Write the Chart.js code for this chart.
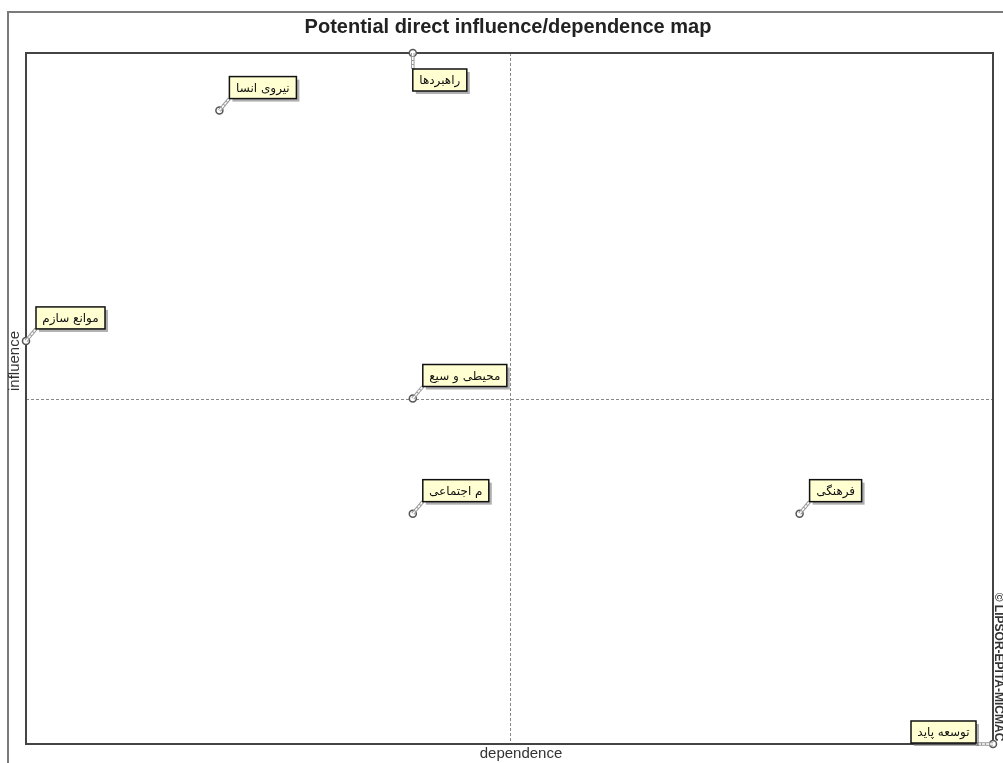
<!DOCTYPE html>
<html>
<head>
<meta charset="utf-8">
<script src="https://cdn.jsdelivr.net/npm/chart.js@4.4.1/dist/chart.umd.min.js"></script>
<style>
  html, body { margin: 0; padding: 0; background: #fff; }
  #wrap { width: 1003px; height: 763px; position: relative; }
</style>
</head>
<body>
<div id="wrap"><canvas id="map"></canvas></div>
<script>
// variables of the MICMAC map
const labels = ['نیروی انسا', 'راهبردها', 'موانع سازم', 'محیطی و سیع', 'م اجتماعی', 'فرهنگی', 'توسعه پاید'];
const dependence = [1, 2, 0, 2, 2, 4, 5];
const influence = [11, 12, 7, 6, 4, 4, 0];

const xMax = 5, yMax = 12;
const xMid = 2.5, yMid = 6;

const points = labels.map((l, i) => ({ x: dependence[i], y: influence[i] }));

const decor = {
  id: 'decor',
  beforeDatasetsDraw(chart) {
    const { ctx, chartArea: a, scales } = chart;
    ctx.save();
    // outer frame
    ctx.strokeStyle = '#7a7a7a';
    ctx.lineWidth = 2;
    ctx.beginPath();
    ctx.moveTo(8, 763);
    ctx.lineTo(8, 12);
    ctx.lineTo(1003, 12);
    ctx.stroke();

    // quadrant lines
    ctx.strokeStyle = '#888';
    ctx.lineWidth = 1;
    ctx.setLineDash([3, 2]);
    const mx = Math.round(scales.x.getPixelForValue(xMid)) + 0.5;
    const my = Math.round(scales.y.getPixelForValue(yMid)) + 0.5;
    ctx.beginPath();
    ctx.moveTo(mx, a.top); ctx.lineTo(mx, a.bottom);
    ctx.moveTo(a.left, my); ctx.lineTo(a.right, my);
    ctx.stroke();
    ctx.setLineDash([]);

    // plot border
    ctx.strokeStyle = '#444';
    ctx.lineWidth = 2;
    ctx.strokeRect(a.left, a.top, a.right - a.left, a.bottom - a.top);

    // title and axis names
    ctx.fillStyle = '#222';
    ctx.font = 'bold 20px "Liberation Sans", Arial, sans-serif';
    ctx.textAlign = 'center';
    ctx.textBaseline = 'middle';
    ctx.fillText('Potential direct influence/dependence map', 508, 27);

    ctx.fillStyle = '#333';
    ctx.font = '15px "Liberation Sans", Arial, sans-serif';
    ctx.fillText('dependence', 521, 754);
    ctx.save();
    ctx.translate(15, 361);
    ctx.rotate(-Math.PI / 2);
    ctx.fillText('influence', 0, 0);
    ctx.restore();

    ctx.save();
    ctx.translate(998, 667);
    ctx.rotate(Math.PI / 2);
    ctx.font = 'bold 12px "Liberation Sans", Arial, sans-serif';
    ctx.fillStyle = '#333';
    ctx.fillText('© LIPSOR-EPITA-MICMAC', 0, 0);
    ctx.restore();
    ctx.restore();
  },
  afterDatasetsDraw(chart) {
    const { ctx, chartArea: a } = chart;
    const meta = chart.getDatasetMeta(0);
    ctx.save();
    ctx.font = '12px "DejaVu Sans", sans-serif';
    meta.data.forEach((pt, i) => {
      const px = pt.x, py = pt.y;
      const w = Math.round(ctx.measureText(labels[i]).width) + 13;
      const h = 22;
      let bx = px + 10, by = py - 34, lx = bx, ly = by + h;
      if (by < a.top) { bx = px; by = py + 16; lx = px; ly = by; }
      else if (bx + w > a.right) { bx = px - 17 - w; by = py - 1 - h; lx = bx + w; ly = py; }

      // leader (double line look)
      ctx.beginPath();
      ctx.moveTo(px, py);
      ctx.lineTo(lx, ly);
      ctx.strokeStyle = '#9a9a9a';
      ctx.lineWidth = 3.5;
      ctx.stroke();
      ctx.strokeStyle = '#fff';
      ctx.lineWidth = 1.5;
      ctx.setLineDash([3, 1]);
      ctx.stroke();
      ctx.setLineDash([]);

      // shadow
      ctx.fillStyle = 'rgba(110,110,110,0.55)';
      ctx.fillRect(bx + 3, by + 3, w, h);
      // box
      ctx.fillStyle = '#ffffd2';
      ctx.fillRect(bx, by, w, h);
      ctx.strokeStyle = '#111';
      ctx.lineWidth = 1.5;
      ctx.strokeRect(bx, by, w, h);
      ctx.fillStyle = '#111';
      ctx.textAlign = 'center';
      ctx.textBaseline = 'middle';
      ctx.fillText(labels[i], bx + w / 2, by + h / 2 + 1);
    });
    ctx.restore();
  }
};

new Chart(document.getElementById('map'), {
  type: 'scatter',
  data: {
    datasets: [{
      data: points,
      pointRadius: 3.5,
      pointHoverRadius: 3.5,
      pointBorderWidth: 1.5,
      pointBorderColor: '#555',
      pointBackgroundColor: '#fff',
      clip: false
    }]
  },
  options: {
    responsive: true,
    maintainAspectRatio: false,
    animation: false,
    layout: { padding: { left: 26, top: 53, right: 10, bottom: 19 } },
    scales: {
      x: { type: 'linear', min: 0, max: xMax, display: false },
      y: { type: 'linear', min: 0, max: yMax, display: false }
    },
    plugins: { legend: { display: false }, tooltip: { enabled: false }, title: { display: false } }
  },
  plugins: [decor]
});
</script>
</body>
</html>
